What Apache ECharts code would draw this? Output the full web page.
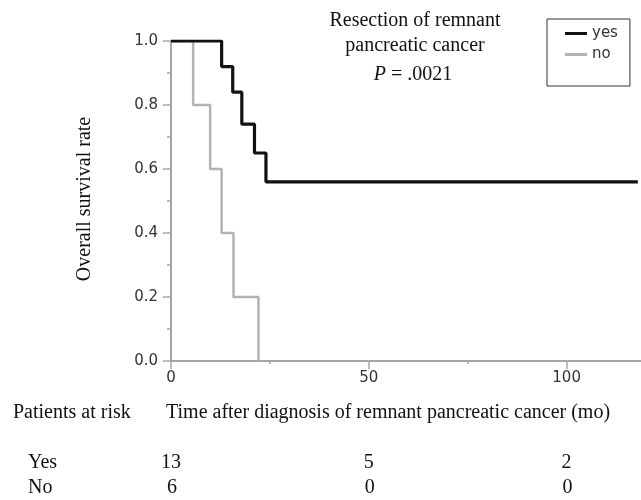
<!DOCTYPE html>
<html>
<head>
<meta charset="utf-8">
<script src="https://cdn.jsdelivr.net/npm/echarts@6/dist/echarts.min.js"></script>
<style>
  html, body { margin: 0; padding: 0; background: #fff; }
  #km { width: 641px; height: 500px; }
</style>
</head>
<body>
<div id="km"></div>
<script>
// Kaplan-Meier: resection of remnant pancreatic cancer, yes / no
var yesTimes = [0, 12.8, 15.6, 17.9, 21.1, 24.0, 118.0];
var yesSurv  = [1.0, 0.92, 0.84, 0.74, 0.65, 0.56, 0.56];
var noTimes  = [0, 5.6, 9.9, 12.8, 15.8, 22.1];
var noSurv   = [1.0, 0.8, 0.6, 0.4, 0.2, 0.0];

var xTicks = [0, 50, 100];
var xMinorTicks = [25, 75];
var riskTimes = [0, 50, 100];
var yesAtRisk = [13, 5, 2];
var noAtRisk  = [6, 0, 0];

var serif = 'Liberation Serif';
var sans = 'DejaVu Sans';
var axisGrey = '#a6a6a6';

function pairs(xs, ys) {
  var out = [];
  for (var i = 0; i < xs.length; i++) out.push([xs[i], ys[i]]);
  return out;
}

var chart = echarts.init(document.getElementById('km'));

chart.setOption({
  animation: false,
  grid: { left: 171, top: 41, width: 470, height: 320 },
  legend: {
    left: 547, top: 19,
    orient: 'vertical',
    borderColor: '#333', borderWidth: 1,
    padding: [7, 12, 24, 18],
    itemWidth: 22, itemHeight: 3, itemGap: 6,
    textStyle: { fontFamily: sans, fontSize: 15, color: '#333' },
    data: [{ name: 'yes', icon: 'rect' }, { name: 'no', icon: 'rect' }]
  },
  xAxis: [{
    type: 'value', min: 0, max: 118.8,
    splitLine: { show: false },
    axisLine: { lineStyle: { color: axisGrey, width: 2 } },
    axisTick: { customValues: xTicks, length: 8, lineStyle: { color: axisGrey, width: 1.5 } },
    axisLabel: { customValues: xTicks, margin: 10, fontFamily: sans, fontSize: 15, color: '#333' }
  }, {
    // short minor ticks at 25 and 75
    type: 'value', min: 0, max: 118.8, position: 'bottom',
    splitLine: { show: false },
    axisLine: { show: false },
    axisTick: { customValues: xMinorTicks, length: 3, lineStyle: { color: axisGrey, width: 1.5 } },
    axisLabel: { show: false }
  }],
  yAxis: {
    type: 'value', min: 0, max: 1, interval: 0.2,
    splitLine: { show: false },
    axisLine: { show: true, lineStyle: { color: axisGrey, width: 2 } },
    axisTick: { show: true, length: 8, lineStyle: { color: axisGrey, width: 1.5 } },
    minorTick: { show: true, splitNumber: 2, length: 4, lineStyle: { color: axisGrey, width: 1.5 } },
    axisLabel: {
      margin: 13, fontFamily: sans, fontSize: 15, color: '#333',
      formatter: function (v) { return v.toFixed(1); }
    }
  },
  series: [{
    name: 'no', type: 'line', step: 'end', symbol: 'none',
    data: pairs(noTimes, noSurv),
    itemStyle: { color: '#b3b3b3' },
    lineStyle: { color: '#b3b3b3', width: 2.5 }
  }, {
    name: 'yes', type: 'line', step: 'end', symbol: 'none',
    data: pairs(yesTimes, yesSurv),
    itemStyle: { color: '#111' },
    lineStyle: { color: '#111', width: 3.2 }
  }]
});

// texts, risk table placed with the x axis scale
function txt(s, x, y, align) {
  return { type: 'text', x: x, y: y, style: { text: s, font: '20px "' + serif + '"', fill: '#111', align: align || 'left', verticalAlign: 'middle' } };
}
var g = [
  txt('Resection of remnant', 415, 21, 'center'),
  txt('pancreatic cancer', 415, 46, 'center'),
  { type: 'text', x: 413, y: 75, style: {
      text: '{i|P} = .0021', align: 'center', verticalAlign: 'middle',
      font: '20px "' + serif + '"', fill: '#111',
      rich: { i: { fontStyle: 'italic', fontFamily: serif, fontSize: 20, fill: '#111' } }
  } },
  txt('Patients at risk', 13, 413),
  txt('Time after diagnosis of remnant pancreatic cancer (mo)', 166, 413),
  txt('Yes', 28, 463),
  txt('No', 28, 488)
];
var yName = txt('Overall survival rate', 85, 199, 'center');
yName.rotation = Math.PI / 2;
g.push(yName);
for (var i = 0; i < riskTimes.length; i++) {
  var px = chart.convertToPixel({ xAxisIndex: 0 }, riskTimes[i]);
  g.push(txt(String(yesAtRisk[i]), px, 463, 'center'));
  g.push(txt(String(noAtRisk[i]), px + 1, 488, 'center'));
}
chart.setOption({ graphic: g });
</script>
</body>
</html>
